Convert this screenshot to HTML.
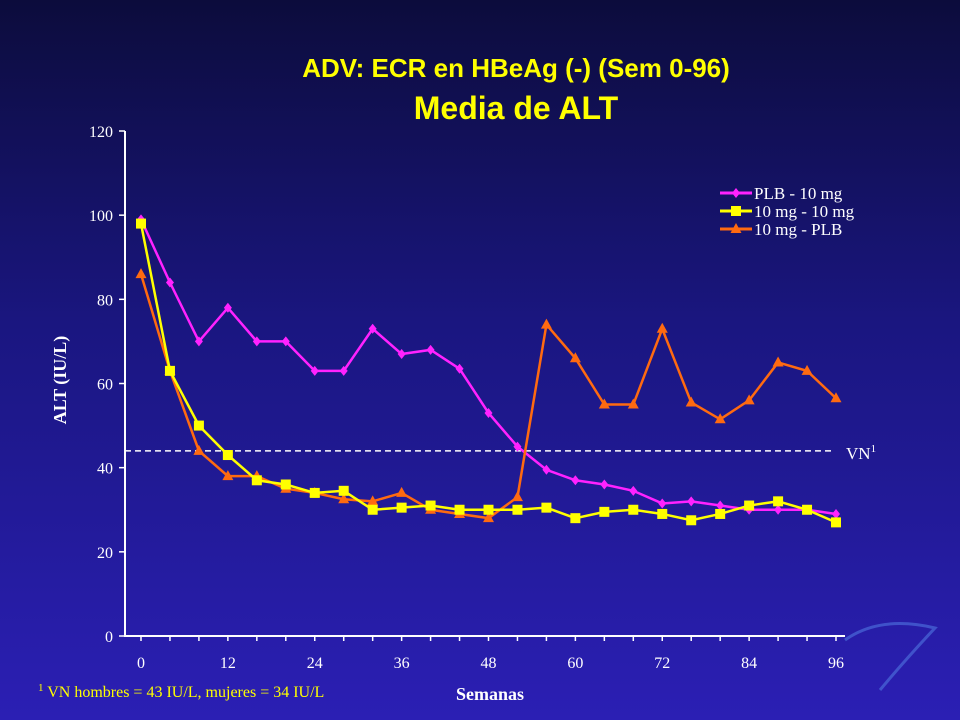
<!DOCTYPE html>
<html><head><meta charset="utf-8"><style>
html,body{margin:0;padding:0;}
body{width:960px;height:720px;overflow:hidden;background:linear-gradient(#0c0c3c 0%,#1a1680 45%,#2b1fb4 100%);}
svg{display:block}
</style></head><body>
<svg id="chart" width="960" height="720" font-family="'Liberation Serif',serif">
<text x="516" y="77" text-anchor="middle" fill="#ffff00" font-family="'Liberation Sans',sans-serif" font-weight="bold" font-size="26">ADV: ECR en HBeAg (-) (Sem 0-96)</text>
<text x="516" y="119" text-anchor="middle" fill="#ffff00" font-family="'Liberation Sans',sans-serif" font-weight="bold" font-size="32">Media de ALT</text>
<g id="axes"></g>
<g id="marks"></g>
<text x="66" y="380" transform="rotate(-90 66 380)" text-anchor="middle" fill="#fff" font-weight="bold" font-size="18">ALT (IU/L)</text>
<text x="490" y="700" text-anchor="middle" fill="#fff" font-weight="bold" font-size="18">Semanas</text>
<text x="38" y="697" fill="#ffff00" font-size="16"><tspan font-size="11" dy="-6">1</tspan><tspan dy="6"> VN hombres = 43 IU/L,  mujeres = 34 IU/L</tspan></text>
<text x="846" y="459" fill="#fff" font-size="17">VN<tspan font-size="11" dy="-7">1</tspan></text>
<path d="M845 640 Q880 615 935 628 Q905 660 880 690" fill="none" stroke="#4a6ad8" stroke-width="3" opacity="0.7"/>
</svg>
<script>
const weeks=[0,4,8,12,16,20,24,28,32,36,40,44,48,52,56,60,64,68,72,76,80,84,88,92,96];
const plb10=[99,84,70,78,70,70,63,63,73,67,68,63.5,53,45,39.5,37,36,34.5,31.5,32,31,30,30,30,29];
const mg10mg10=[98,63,50,43,37,36,34,34.5,30,30.5,31,30,30,30,30.5,28,29.5,30,29,27.5,29,31,32,30,27];
const mg10plb=[86,63,44,38,38,35,34,32.5,32,34,30,29,28,33,74,66,55,55,73,55.5,51.5,56,65,63,56.5];
const yTicks=[0,20,40,60,80,100,120];
const xTicks=[0,12,24,36,48,60,72,84,96];
const vnValue=44;
const NS='http://www.w3.org/2000/svg';
const X=w=>141+w*(695/96);
const Y=v=>636-v*(505/120);
function mk(tag,attrs,parent){const e=document.createElementNS(NS,tag);for(const k in attrs)e.setAttribute(k,attrs[k]);parent.appendChild(e);return e;}
const ax=document.getElementById('axes'),mg=document.getElementById('marks');
let l=mk('line',{x1:125,y1:131,x2:125,y2:637,stroke:'#fff','stroke-width':2},ax);


l=mk('line',{x1:124,y1:636,x2:845,y2:636,stroke:'#fff','stroke-width':2},ax);


yTicks.forEach(v=>{
 let t=mk('line',{x1:119,y1:Y(v),x2:125,y2:Y(v),stroke:'#fff','stroke-width':1.5},ax);
 
 
 let tx=mk('text',{x:113,y:Y(v)+6,'text-anchor':'end',fill:'#fff','font-size':16},ax);tx.textContent=v;
 
 
});
weeks.forEach(w=>{
 let t=mk('line',{x1:X(w),y1:636,x2:X(w),y2:641,stroke:'#fff','stroke-width':1.5},ax);
 
 
});
xTicks.forEach(w=>{
 let tx=mk('text',{x:X(w),y:668,'text-anchor':'middle',fill:'#fff','font-size':16},ax);tx.textContent=w;
 
 
});
l=mk('line',{x1:125,y1:Y(vnValue),x2:835,y2:Y(vnValue),stroke:'#fff','stroke-width':1.5,'stroke-dasharray':'6,4'},ax);


function marker(type,x,y,c,g){
 if(type==='d')return mk('polygon',{points:`${x},${y-5} ${x+4},${y} ${x},${y+5} ${x-4},${y}`,fill:c},g);
 if(type==='s')return mk('rect',{x:x-5,y:y-5,width:10,height:10,fill:c},g);
 return mk('polygon',{points:`${x},${y-6} ${x+5.5},${y+4} ${x-5.5},${y+4}`,fill:c},g);
}
const series=[['plb-10mg',plb10,'#ff22ff','d'],['10mg-plb',mg10plb,'#ff6a10','t'],['10mg-10mg',mg10mg10,'#ffff00','s']];
series.forEach(([n,vals,c,m])=>{
 const g=mk('g',{},mg);
 
 
 let p=mk('polyline',{points:vals.map((v,i)=>X(weeks[i])+','+Y(v)).join(' '),fill:'none',stroke:c,'stroke-width':2.5},g);
 
 
 vals.forEach((v,i)=>{const e=marker(m,X(weeks[i]),Y(v),c,g);
  
  });
});
const legend=[['PLB - 10 mg','#ff22ff','d'],['10 mg - 10 mg','#ffff00','s'],['10 mg - PLB','#ff6a10','t']];
legend.forEach(([lab,c,m],i)=>{
 const y=193+i*18;const g=mk('g',{},mg);
 
 
 mk('line',{x1:720,y1:y,x2:752,y2:y,stroke:c,'stroke-width':3},g);
 marker(m,736,y,c,g);
 const t=mk('text',{x:754,y:y+6,fill:'#fff','font-size':17},g);t.textContent=lab;
});
</script>
</body></html>
